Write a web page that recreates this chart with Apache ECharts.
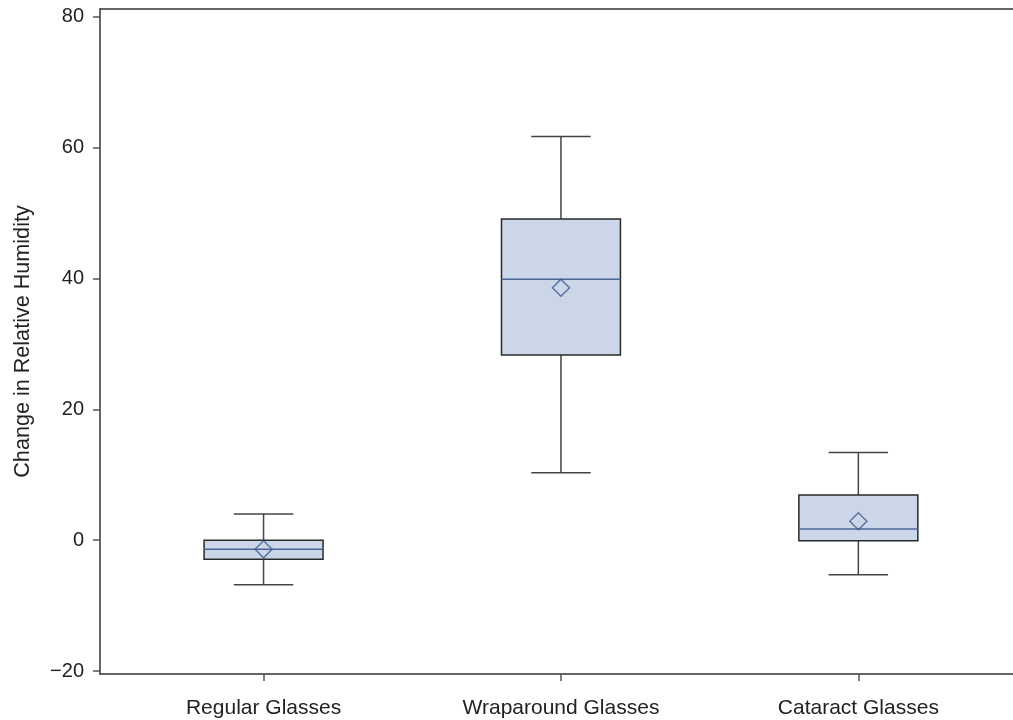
<!DOCTYPE html>
<html>
<head>
<meta charset="utf-8">
<script src="https://cdn.jsdelivr.net/npm/echarts@6/dist/echarts.min.js"></script>
<style>
    html, body { margin: 0; padding: 0; background: #fff; }
    #app { width: 1013px; height: 720px; }
</style>
</head>
<body>
<div id="app"></div>
<script>
// 数据
var categories = ['Regular Glasses', 'Wraparound Glasses', 'Cataract Glasses']
var whiskerLow = [-6.8, 10.3, -5.3]
var q1 = [-2.9, 28.3, -0.1]
var median = [-1.4, 39.9, 1.7]
var q3 = [0.0, 49.1, 6.9]
var whiskerHigh = [4.0, 61.7, 13.4]
var mean = [-1.4, 38.6, 2.9]
var yTicks = [-20, 0, 20, 40, 60, 80]

var font = 'Liberation Sans, Arial, Helvetica, sans-serif'
var boxData = categories.map((c, i) => [i + 1, whiskerLow[i], q1[i], median[i], q3[i], whiskerHigh[i]])
var meanData = categories.map((c, i) => [i + 1, mean[i]])

var chart = echarts.init(document.getElementById('app'))

//箱线图绘制
var renderBox = (params, api) => {
    var x = api.value(0)
    var pLow = api.coord([x, api.value(1)])
    var pQ1 = api.coord([x, api.value(2)])
    var pMed = api.coord([x, api.value(3)])
    var pQ3 = api.coord([x, api.value(4)])
    var pHigh = api.coord([x, api.value(5)])
    var halfBox = api.size([0.4, 0])[0] / 2
    var halfCap = api.size([0.2, 0])[0] / 2
    var cx = pMed[0]
    var whisker = {stroke: '#444', lineWidth: 1.5}
    return {
        type: 'group',
        children: [
            {type: 'line', shape: {x1: cx, y1: pHigh[1], x2: cx, y2: pQ3[1]}, style: whisker},
            {type: 'line', shape: {x1: cx, y1: pQ1[1], x2: cx, y2: pLow[1]}, style: whisker},
            {type: 'line', shape: {x1: cx - halfCap, y1: pHigh[1], x2: cx + halfCap, y2: pHigh[1]}, style: whisker},
            {type: 'line', shape: {x1: cx - halfCap, y1: pLow[1], x2: cx + halfCap, y2: pLow[1]}, style: whisker},
            {
                type: 'rect',
                shape: {x: cx - halfBox, y: pQ3[1], width: halfBox * 2, height: pQ1[1] - pQ3[1]},
                style: {fill: '#cbd7e8', stroke: '#2a2a2a', lineWidth: 1.5}
            },
            {
                type: 'line',
                shape: {x1: cx - halfBox, y1: pMed[1], x2: cx + halfBox, y2: pMed[1]},
                style: {stroke: '#4a6699', lineWidth: 1.5}
            }
        ]
    }
}

chart.setOption({
    animation: false,
    backgroundColor: '#fff',
    grid: {left: 100, right: 0, top: 9, bottom: 46, outerBoundsMode: 'none', containLabel: false},
    xAxis: [
        {
            type: 'value',
            position: 'bottom',
            min: 0.45,
            max: 3.52,
            splitLine: {show: false},
            axisLine: {onZero: false, lineStyle: {color: '#333', width: 1.5}},
            axisTick: {customValues: [1, 2, 3], length: 7, lineStyle: {color: '#555', width: 1.5}},
            axisLabel: {
                customValues: [1, 2, 3],
                formatter: (v) => categories[Math.round(v) - 1],
                margin: 24,
                color: '#222',
                fontSize: 21,
                fontFamily: font
            }
        },
        {
            type: 'value',
            position: 'top',
            min: 0.45,
            max: 3.52,
            splitLine: {show: false},
            axisLine: {onZero: false, lineStyle: {color: '#333', width: 1.5}},
            axisTick: {show: false},
            axisLabel: {show: false}
        }
    ],
    yAxis: {
        type: 'value',
        min: -20.46,
        max: 81.2,
        name: 'Change in Relative Humidity',
        nameLocation: 'middle',
        nameGap: 66,
        nameTextStyle: {color: '#222', fontSize: 21.6, fontFamily: font},
        splitLine: {show: false},
        axisLine: {show: true, onZero: false, lineStyle: {color: '#333', width: 1.5}},
        axisTick: {show: true, customValues: yTicks, length: 7, lineStyle: {color: '#555', width: 1.5}},
        axisLabel: {
            customValues: yTicks,
            formatter: (v) => v < 0 ? '\u2212' + Math.abs(v) : String(v),
            margin: 16,
            color: '#222',
            fontSize: 20,
            fontFamily: font
        }
    },
    series: [
        {
            type: 'custom',
            renderItem: renderBox,
            encode: {x: 0, y: [1, 2, 3, 4, 5]},
            data: boxData,
            z: 2
        },
        {
            type: 'scatter',
            symbol: 'diamond',
            symbolSize: 17,
            itemStyle: {color: 'rgba(0,0,0,0)', borderColor: '#3f5b8f', borderWidth: 1.5},
            data: meanData,
            z: 3
        }
    ]
})
</script>
</body>
</html>
